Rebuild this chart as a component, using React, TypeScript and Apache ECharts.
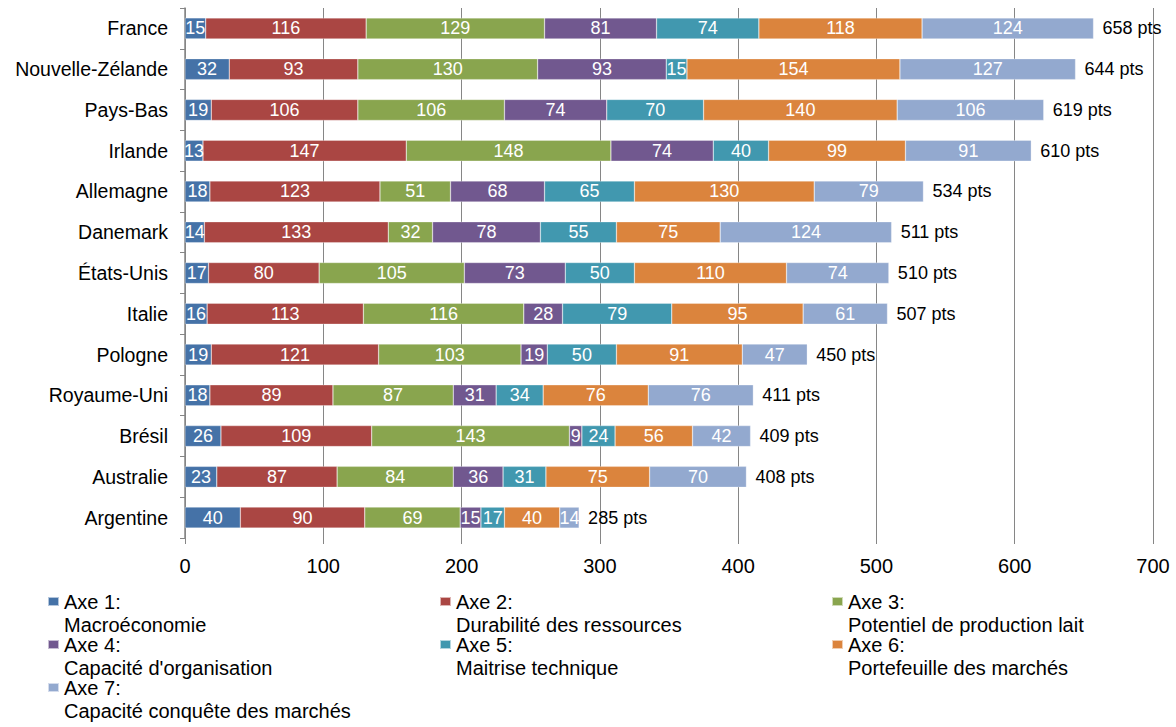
import React, { useEffect, useRef } from "react";
import * as echarts from "echarts";

// Countries, top to bottom
const countries = [
  "France", "Nouvelle-Zélande", "Pays-Bas", "Irlande", "Allemagne", "Danemark",
  "États-Unis", "Italie", "Pologne", "Royaume-Uni", "Brésil", "Australie", "Argentine",
];

// Scores per axis, one value per country (same order as countries)
const axe1 = [15, 32, 19, 13, 18, 14, 17, 16, 19, 18, 26, 23, 40];
const axe2 = [116, 93, 106, 147, 123, 133, 80, 113, 121, 89, 109, 87, 90];
const axe3 = [129, 130, 106, 148, 51, 32, 105, 116, 103, 87, 143, 84, 69];
const axe4 = [81, 93, 74, 74, 68, 78, 73, 28, 19, 31, 9, 36, 15];
const axe5 = [74, 15, 70, 40, 65, 55, 50, 79, 50, 34, 24, 31, 17];
const axe6 = [118, 154, 140, 99, 130, 75, 110, 95, 91, 76, 56, 75, 40];
const axe7 = [124, 127, 106, 91, 79, 124, 74, 61, 47, 76, 42, 70, 14];

// Overall scores shown after each bar
const totals = [658, 644, 619, 610, 534, 511, 510, 507, 450, 411, 409, 408, 285];

const axisNames = [
  "Axe 1:\nMacroéconomie",
  "Axe 2:\nDurabilité des ressources",
  "Axe 3:\nPotentiel de production lait",
  "Axe 4:\nCapacité d'organisation",
  "Axe 5:\nMaitrise technique",
  "Axe 6:\nPortefeuille des marchés",
  "Axe 7:\nCapacité conquête des marchés",
];
const axisColors = ["#4572A7", "#AA4643", "#89A54E", "#71588F", "#4198AF", "#DB843D", "#93A9CF"];
const axisValues = [axe1, axe2, axe3, axe4, axe5, axe6, axe7];

const xTicks = { min: 0, max: 700, interval: 100 };

const FONT = "'Liberation Sans', Arial, sans-serif";
const GRID_GRAY = "#868686";
const BAR_WIDTH = 21;

export default function App() {
  const ref = useRef<HTMLDivElement>(null);

  useEffect(() => {
    if (!ref.current) return;
    const chart = echarts.init(ref.current, null, { renderer: "svg" });

    const series: any[] = axisValues.map((vals, i) => ({
      name: axisNames[i],
      type: "bar",
      stack: "total",
      barWidth: BAR_WIDTH,
      data: vals,
      itemStyle: { color: axisColors[i], borderColor: "rgba(255,255,255,0.6)", borderWidth: 0.5 },
      label: {
        show: true,
        position: "inside",
        color: "#fff",
        fontSize: 18,
        fontFamily: FONT,
      },
    }));

    // Zero-length segment closing each stack; it carries the total label
    series.push({
      name: "total",
      type: "bar",
      stack: "total",
      barWidth: BAR_WIDTH,
      data: totals.map(() => 0),
      itemStyle: { color: "transparent" },
      label: {
        show: true,
        position: "right",
        distance: 9,
        color: "#000",
        fontSize: 18,
        fontFamily: FONT,
        formatter: (p: any) => `${totals[p.dataIndex]} pts`,
      },
    });

    // Legend in three columns; the leading blank line keeps the swatch
    // level with the first line of each two-line name
    const columns = [
      [axisNames[0], axisNames[3], axisNames[6]],
      [axisNames[1], axisNames[4]],
      [axisNames[2], axisNames[5]],
    ];
    const colLeft = [47, 439, 831];
    const legends = columns.map((names, c) => ({
      orient: "vertical",
      left: colLeft[c],
      top: 567,
      padding: 0,
      itemGap: -26,
      itemWidth: 11,
      itemHeight: 9,
      icon: "rect",
      selectedMode: false,
      data: names,
      formatter: (name: string) => "\n" + name,
      textStyle: {
        fontSize: 20,
        lineHeight: 23,
        color: "#000",
        fontFamily: FONT,
      },
    }));

    chart.setOption({
      animation: false,
      textStyle: { fontFamily: FONT },
      grid: { left: 185, right: 23, top: 8, bottom: 189, containLabel: false },
      legend: legends,
      xAxis: {
        type: "value",
        min: xTicks.min,
        max: xTicks.max,
        interval: xTicks.interval,
        axisLine: { show: false },
        axisTick: { show: true, length: 6, lineStyle: { color: GRID_GRAY } },
        splitLine: { show: true, lineStyle: { color: GRID_GRAY, width: 1 } },
        axisLabel: { color: "#000", fontSize: 20, margin: 18, fontFamily: FONT },
      },
      yAxis: {
        type: "category",
        data: countries,
        inverse: true,
        axisLine: { show: true, lineStyle: { color: GRID_GRAY, width: 1.5 } },
        axisTick: { show: true, length: 5, lineStyle: { color: GRID_GRAY } },
        axisLabel: { color: "#000", fontSize: 19.5, margin: 17, fontFamily: FONT },
      },
      series,
    });

    return () => chart.dispose();
  }, []);

  return (
    <div
      ref={ref}
      style={{ position: "fixed", left: 0, top: 0, width: 1176, height: 727, background: "#fff" }}
    />
  );
}
